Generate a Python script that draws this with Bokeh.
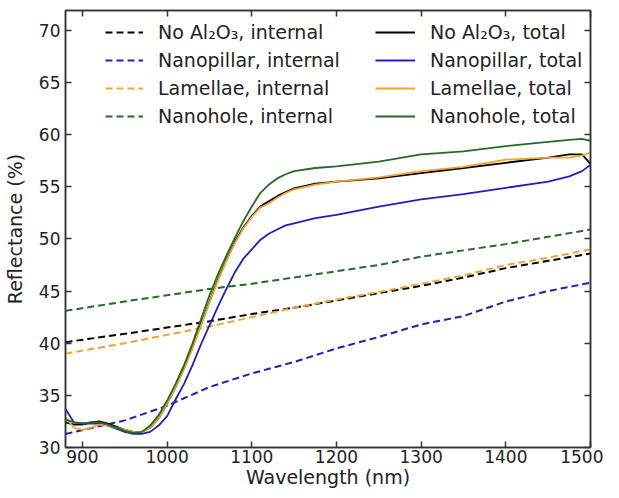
from bokeh.plotting import figure
from bokeh.models import Range1d, LinearAxis, Legend, LegendItem, FixedTicker
from bokeh.embed import file_html
from bokeh.resources import INLINE

# ---- data ----
x_total = [880, 890, 900, 910, 920, 930, 940, 950, 960, 970, 980, 990, 1000, 1010, 1020,
           1030, 1040, 1050, 1060, 1070, 1080, 1090, 1100, 1110, 1120, 1130, 1140, 1150,
           1175, 1200, 1250, 1300, 1350, 1400, 1450, 1475, 1490, 1500]
noal_total = [32.4, 32.2, 32.2, 32.4, 32.5, 32.3, 32.0, 31.7, 31.5, 31.5, 31.9, 32.8, 34.2, 35.8, 37.6,
              39.6, 41.8, 44.0, 46.1, 48.0, 49.7, 51.1, 52.2, 53.1, 53.6, 54.1, 54.5, 54.85,
              55.3, 55.5, 55.8, 56.3, 56.8, 57.3, 57.8, 58.1, 58.1, 57.2]
pillar_total = [33.7, 32.4, 32.3, 32.3, 32.3, 32.1, 31.8, 31.5, 31.3, 31.3, 31.5, 32.1, 33.0, 34.6, 36.1,
                37.9, 39.9, 41.7, 43.5, 45.2, 46.8, 48.1, 49.0, 49.9, 50.5, 50.9, 51.3, 51.5,
                52.0, 52.3, 53.1, 53.8, 54.3, 54.9, 55.5, 56.0, 56.5, 57.1]
lamellae_total = [32.9, 31.9, 31.7, 31.9, 32.2, 32.1, 31.9, 31.7, 31.5, 31.5, 31.9, 32.8, 34.2, 35.8, 37.5,
                  39.5, 41.7, 43.9, 46.0, 47.9, 49.6, 51.0, 52.1, 53.0, 53.4, 53.95, 54.4, 54.75,
                  55.2, 55.5, 55.9, 56.5, 56.9, 57.6, 57.8, 57.8, 58.0, 58.3]
hole_total = [32.7, 32.4, 32.3, 32.4, 32.4, 32.2, 31.9, 31.6, 31.4, 31.5, 32.1, 33.1, 34.5, 36.1, 37.9,
              40.0, 42.3, 44.6, 46.6, 48.4, 50.1, 51.7, 53.1, 54.4, 55.2, 55.8, 56.2, 56.5,
              56.8, 56.95, 57.4, 58.1, 58.4, 58.9, 59.3, 59.5, 59.6, 59.4]

x_int = [880, 950, 1000, 1050, 1100, 1150, 1200, 1250, 1300, 1350, 1400, 1450, 1500]
noal_int = [40.1, 40.9, 41.5, 42.1, 42.8, 43.4, 44.1, 44.8, 45.5, 46.3, 47.2, 47.9, 48.6]
pillar_int = [31.3, 32.6, 34.0, 35.8, 37.1, 38.2, 39.5, 40.6, 41.8, 42.6, 44.0, 45.0, 45.8]
lamellae_int = [39.0, 40.0, 40.8, 41.6, 42.5, 43.4, 44.2, 44.9, 45.7, 46.5, 47.5, 48.2, 49.0]
hole_int = [43.1, 44.0, 44.6, 45.2, 45.7, 46.3, 46.9, 47.5, 48.3, 48.9, 49.5, 50.2, 50.9]

names = ["No Al\u2082O\u2083", "Nanopillar", "Lamellae", "Nanohole"]
x_ticks = [900, 1000, 1100, 1200, 1300, 1400, 1500]
y_ticks = [30, 35, 40, 45, 50, 55, 60, 65, 70]

colors = ["#000000", "#2020b8", "#f0a431", "#256b25"]
FONT = "DejaVu Sans"
AX = "#333333"

p = figure(width=603, height=490, output_backend="svg", toolbar_location=None,
           x_range=Range1d(880, 1500), y_range=Range1d(30, 71.9),
           min_border_left=64, min_border_top=10, min_border_right=13, min_border_bottom=40)
p.grid.visible = False
p.outline_line_color = AX
p.outline_line_width = 1.5
p.background_fill_color = "white"

def style_axis(ax, labels=True):
    ax.minor_tick_line_color = None
    ax.major_tick_in = 6
    ax.major_tick_out = 0
    ax.major_tick_line_color = AX
    ax.major_tick_line_width = 1.5
    ax.axis_line_color = AX
    ax.axis_line_width = 1.5
    ax.major_label_text_font = FONT
    ax.major_label_text_font_size = "17px"
    ax.major_label_text_color = "#222222"
    ax.axis_label_text_font = FONT
    ax.axis_label_text_font_size = "19px"
    ax.axis_label_text_font_style = "normal"
    ax.axis_label_text_color = "#222222"
    if not labels:
        ax.major_label_text_font_size = "1px"
        ax.major_label_text_color = None
        ax.major_label_standoff = 0
        ax.axis_label_standoff = 0
        ax.axis_label_text_font_size = "1px"

p.xaxis.ticker = FixedTicker(ticks=x_ticks)
p.yaxis.ticker = FixedTicker(ticks=y_ticks)
p.xaxis.axis_label = "Wavelength (nm)"
p.yaxis.axis_label = "Reflectance (%)"
style_axis(p.xaxis[0])
style_axis(p.yaxis[0])
p.xaxis.major_label_standoff = 2
p.yaxis.major_label_standoff = 5
p.xaxis.axis_label_standoff = 0
p.yaxis.axis_label_standoff = 10

top = LinearAxis(ticker=FixedTicker(ticks=x_ticks))
style_axis(top, labels=False)
p.add_layout(top, "above")
right = LinearAxis(ticker=FixedTicker(ticks=y_ticks))
style_axis(right, labels=False)
p.add_layout(right, "right")

int_series = [noal_int, pillar_int, lamellae_int, hole_int]
tot_series = [noal_total, pillar_total, lamellae_total, hole_total]

items_int = []
items_tot = []
for n, c, ys in zip(names, colors, int_series):
    r = p.line(x_int, ys, line_color=c, line_width=2, line_dash="7 4")
    items_int.append(LegendItem(label=n + ", internal", renderers=[r]))
for n, c, ys in zip(names, colors, tot_series):
    r = p.line(x_total, ys, line_color=c, line_width=1.8)
    items_tot.append(LegendItem(label=n + ", total", renderers=[r]))

def make_legend(items, loc, gw):
    lg = Legend(items=items, location=loc, orientation="vertical")
    lg.border_line_alpha = 0
    lg.background_fill_alpha = 0
    lg.padding = 0
    lg.margin = 0
    lg.spacing = 6
    lg.glyph_height = 22
    lg.label_height = 22
    lg.glyph_width = gw
    lg.label_standoff = 15
    lg.label_text_font = FONT
    lg.label_text_font_size = "19px"
    lg.label_text_color = "#222222"
    return lg

p.add_layout(make_legend(items_int, (40, 320), 38))
p.add_layout(make_legend(items_tot, (310, 320), 40))

open("out.html", "w").write(file_html(p, INLINE))
